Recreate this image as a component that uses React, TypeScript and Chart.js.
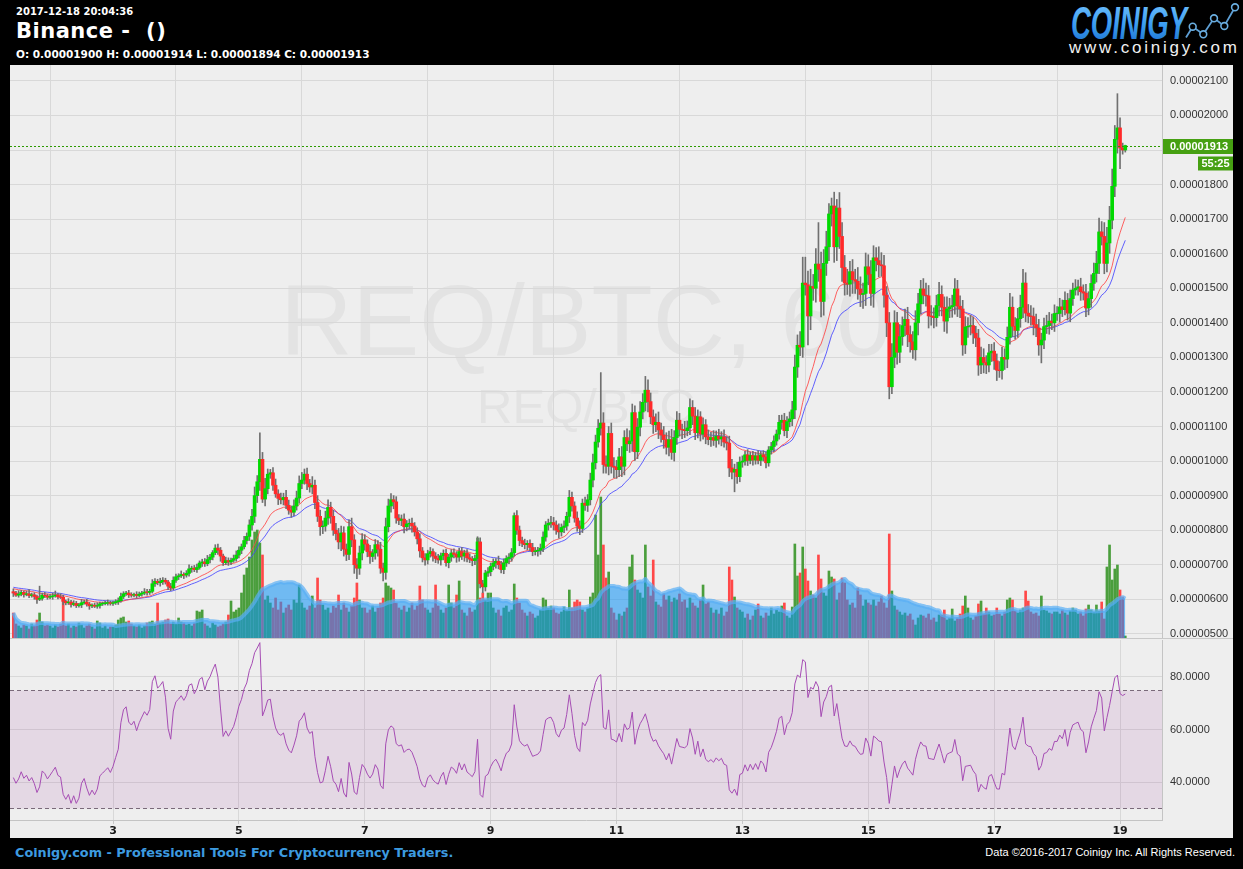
import React, { useEffect, useRef } from 'react';
import { Chart, registerables } from 'chart.js';

Chart.register(...registerables);

// ---------------- data (prices in satoshi = 1e-8 BTC, hourly candles) ----------------
const firstHour = 10; // first candle: day 1, 10:00 (hours counted from day 1 00:00)
const firstOpen = 622;

const closeSat = [
  /* d1 */ 618, 612, 615, 620, 614, 616, 611, 613, 608, 600, 603, 612, 610, 606,
  /* d2 */ 608, 610, 612, 607, 606, 594, 590, 592, 585, 588, 582, 584, 590, 592, 586, 581, 583, 580, 582, 587, 588, 589, 590, 588,
  /* d3 */ 590, 593, 596, 608, 616, 618, 613, 612, 614, 611, 615, 618, 621, 620, 623, 645, 652, 648, 651, 655, 650, 638, 633, 655,
  /* d4 */ 665, 668, 672, 670, 675, 688, 690, 686, 692, 705, 708, 703, 715, 722, 735, 748, 742, 725, 706, 712, 708, 713, 718, 728,
  /* d5 */ 742, 752, 770, 782, 815, 840, 900, 940, 1005, 890, 920, 962, 966, 930, 905, 892, 888, 895, 872, 858, 852, 870, 893, 935,
  /* d6 */ 945, 962, 935, 925, 930, 880, 840, 810, 812, 835, 866, 840, 800, 790, 766, 792, 745, 730, 810, 772, 700, 690, 734, 772,
  /* d7 */ 760, 738, 724, 734, 758, 745, 690, 678, 810, 870, 888, 882, 835, 828, 832, 810, 818, 820, 812, 795, 775, 740, 720, 714,
  /* d8 */ 732, 738, 725, 718, 714, 726, 733, 706, 722, 734, 730, 722, 738, 725, 734, 720, 716, 712, 718, 766, 645, 636, 676, 680,
  /* d9 */ 695, 705, 710, 700, 686, 705, 718, 722, 735, 842, 800, 770, 762, 758, 762, 750, 738, 740, 742, 748, 780, 815, 820, 822,
  /* d10 */ 815, 800, 795, 808, 812, 840, 895, 870, 835, 812, 805, 878, 872, 888, 945, 995, 1055, 1095, 1110, 990, 985, 1080, 985, 982,
  /* d11 */ 975, 1012, 985, 1068, 1050, 1058, 1140, 1027, 1098, 1142, 1170, 1205, 1172, 1128, 1105, 1112, 1090, 1075, 1062, 1040, 1062, 1025, 1068, 1118,
  /* d12 */ 1092, 1090, 1088, 1096, 1155, 1130, 1082, 1128, 1078, 1105, 1070, 1062, 1068, 1060, 1072, 1064, 1070, 1055, 1052, 980, 968, 976, 955, 997,
  /* d13 */ 1000, 1018, 1002, 1016, 1003, 1015, 1002, 1018, 1012, 995, 1032, 1042, 1058, 1078, 1112, 1118, 1088, 1114, 1122, 1148, 1272, 1335, 1330, 1515,
  /* d14 */ 1510, 1420, 1505, 1500, 1570, 1555, 1462, 1572, 1620, 1715, 1738, 1620, 1732, 1650, 1560, 1515, 1512, 1548, 1525, 1520, 1498, 1482, 1485, 1562,
  /* d15 */ 1540, 1485, 1588, 1580, 1568, 1565, 1480, 1400, 1215, 1300, 1400, 1315, 1360, 1392, 1410, 1366, 1345, 1322, 1400, 1455, 1498, 1480, 1478, 1420,
  /* d16 */ 1418, 1415, 1450, 1482, 1445, 1405, 1440, 1446, 1450, 1498, 1448, 1440, 1336, 1388, 1390, 1392, 1370, 1356, 1278, 1300, 1285, 1278, 1313, 1318,
  /* d17 */ 1290, 1263, 1262, 1300, 1295, 1358, 1445, 1390, 1378, 1412, 1445, 1515, 1428, 1420, 1418, 1395, 1385, 1336, 1350, 1389, 1392, 1405, 1400, 1427,
  /* d18 */ 1427, 1446, 1438, 1465, 1428, 1470, 1495, 1500, 1504, 1490, 1486, 1443, 1470, 1514, 1543, 1572, 1663, 1650, 1572, 1631, 1697, 1795, 1931, 1964,
  /* d19 */ 1906, 1900, 1913,
];

const upperWick = [
  /* d1 */ 8, 5, 10, 6, 4, 8, 12, 5, 6, 4, 35, 6, 8, 5,
  /* d2 */ 6, 8, 12, 5, 9, 6, 4, 10, 5, 8, 6, 4, 10, 6, 8, 5, 4, 6, 8, 5, 4, 6, 8, 5,
  /* d3 */ 5, 6, 8, 10, 6, 5, 8, 6, 4, 8, 6, 5, 10, 8, 6, 12, 8, 6, 10, 8, 6, 5, 8, 10,
  /* d4 */ 8, 6, 10, 5, 8, 12, 6, 8, 10, 6, 8, 10, 12, 8, 6, 10, 12, 8, 6, 10, 8, 6, 10, 12,
  /* d5 */ 10, 8, 12, 10, 15, 20, 25, 18, 77, 20, 30, 15, 10, 15, 18, 12, 15, 12, 20, 15, 12, 18, 20, 22,
  /* d6 */ 22, 15, 18, 12, 25, 15, 20, 18, 15, 20, 22, 15, 18, 20, 15, 20, 18, 15, 20, 25, 15, 18, 20, 18,
  /* d7 */ 15, 12, 18, 10, 15, 12, 20, 15, 25, 20, 18, 12, 15, 10, 12, 15, 10, 12, 15, 10, 12, 15, 10, 12,
  /* d8 */ 10, 12, 8, 10, 12, 8, 10, 12, 8, 10, 12, 8, 10, 12, 8, 10, 12, 8, 10, 15, 12, 10, 8, 12,
  /* d9 */ 10, 12, 8, 15, 10, 12, 8, 10, 12, 8, 15, 12, 10, 12, 8, 10, 12, 10, 8, 12, 15, 10, 12, 18,
  /* d10 */ 15, 12, 18, 10, 15, 12, 20, 15, 12, 18, 15, 12, 18, 15, 20, 25, 20, 25, 146, 30, 25, 20, 30, 25,
  /* d11 */ 20, 25, 30, 20, 25, 30, 25, 20, 25, 30, 25, 40, 30, 25, 20, 25, 30, 20, 25, 20, 25, 30, 20, 25,
  /* d12 */ 20, 15, 25, 20, 25, 20, 25, 20, 15, 20, 15, 20, 15, 20, 15, 20, 15, 20, 15, 20, 25, 15, 20, 15,
  /* d13 */ 15, 10, 15, 10, 12, 10, 15, 10, 12, 15, 10, 12, 15, 12, 20, 15, 20, 15, 20, 25, 35, 30, 40, 75,
  /* d14 */ 75, 40, 50, 35, 45, 120, 50, 40, 45, 30, 23, 40, 25, 45, 40, 35, 40, 30, 35, 30, 40, 35, 30, 40,
  /* d15 */ 35, 40, 35, 30, 40, 35, 30, 25, 30, 40, 35, 30, 35, 25, 30, 35, 25, 30, 35, 30, 25, 30, 35, 30,
  /* d16 */ 30, 25, 30, 35, 25, 30, 35, 25, 30, 30, 25, 30, 25, 30, 25, 30, 25, 20, 25, 30, 25, 20, 25, 20,
  /* d17 */ 25, 20, 25, 30, 25, 30, 40, 30, 25, 30, 35, 40, 30, 25, 30, 25, 30, 25, 20, 25, 30, 25, 20, 25,
  /* d18 */ 20, 25, 20, 25, 20, 25, 20, 25, 20, 25, 20, 25, 20, 25, 30, 35, 40, 30, 40, 45, 40, 50, 40, 99,
  /* d19 */ 29, 14, 1,
];

const lowerWick = [
  /* d1 */ 10, 4, 6, 5, 8, 4, 6, 5, 8, 12, 4, 6, 5, 6,
  /* d2 */ 5, 8, 4, 6, 4, 10, 6, 5, 8, 4, 6, 5, 8, 4, 6, 10, 5, 4, 6, 8, 5, 4, 6, 5,
  /* d3 */ 6, 5, 8, 4, 6, 5, 8, 6, 5, 8, 4, 6, 5, 8, 6, 5, 8, 6, 10, 8, 6, 10, 8, 6,
  /* d4 */ 6, 8, 5, 10, 6, 8, 10, 6, 8, 5, 10, 8, 6, 10, 8, 6, 12, 15, 8, 6, 10, 8, 6, 8,
  /* d5 */ 8, 10, 6, 10, 12, 15, 18, 20, 25, 10, 20, 15, 12, 15, 10, 18, 12, 15, 10, 12, 15, 10, 12, 15,
  /* d6 */ 15, 12, 18, 15, 20, 18, 15, 25, 20, 15, 18, 20, 15, 18, 20, 25, 20, 18, 15, 20, 25, 30, 18, 20,
  /* d7 */ 18, 15, 20, 15, 18, 20, 15, 25, 20, 15, 18, 20, 15, 12, 15, 18, 12, 15, 18, 12, 15, 18, 12, 15,
  /* d8 */ 12, 10, 15, 12, 10, 15, 12, 10, 15, 12, 10, 15, 12, 10, 15, 12, 10, 15, 12, 10, 12, 17, 12, 10,
  /* d9 */ 12, 10, 15, 12, 10, 12, 10, 15, 12, 10, 12, 15, 10, 12, 15, 10, 12, 10, 15, 12, 10, 12, 15, 12,
  /* d10 */ 15, 12, 18, 12, 15, 12, 18, 15, 12, 15, 18, 12, 15, 18, 15, 20, 18, 15, 20, 25, 20, 25, 20, 30,
  /* d11 */ 25, 20, 30, 25, 20, 25, 30, 25, 20, 25, 20, 25, 30, 20, 25, 20, 25, 20, 25, 20, 25, 20, 25, 20,
  /* d12 */ 20, 25, 20, 15, 20, 25, 20, 15, 20, 15, 20, 15, 20, 15, 20, 15, 20, 15, 20, 25, 20, 57, 20, 15,
  /* d13 */ 15, 12, 15, 10, 15, 12, 10, 15, 12, 15, 10, 12, 15, 12, 15, 20, 15, 20, 15, 20, 25, 30, 25, 30,
  /* d14 */ 30, 84, 40, 35, 40, 35, 45, 40, 35, 40, 35, 45, 40, 35, 40, 35, 30, 35, 40, 35, 30, 35, 40, 35,
  /* d15 */ 30, 35, 40, 30, 35, 30, 35, 40, 35, 20, 30, 35, 30, 25, 30, 35, 30, 25, 30, 35, 30, 25, 30, 35,
  /* d16 */ 25, 30, 25, 30, 25, 30, 35, 25, 30, 25, 30, 25, 30, 25, 30, 25, 30, 25, 30, 25, 30, 25, 20, 25,
  /* d17 */ 25, 30, 20, 25, 30, 25, 20, 30, 25, 20, 25, 30, 25, 20, 25, 30, 25, 30, 52, 25, 20, 25, 20, 25,
  /* d18 */ 20, 25, 20, 15, 20, 25, 20, 15, 20, 25, 20, 25, 20, 25, 20, 25, 30, 25, 30, 25, 30, 25, 30, 40,
  /* d19 */ 60, 12, 6,
];

const volume = [
  /* d1 */ 25, 14, 12, 10, 13, 12, 9, 14, 12, 18, 25, 16, 12, 13,
  /* d2 */ 12, 10, 13, 11, 14, 38, 12, 14, 10, 12, 11, 15, 13, 10, 12, 14, 11, 9, 17, 15, 10, 12, 9, 11,
  /* d3 */ 11, 13, 18, 20, 21, 16, 17, 14, 12, 11, 13, 10, 12, 15, 16, 17, 14, 35, 15, 16, 18, 19, 14, 16,
  /* d4 */ 14, 20, 16, 15, 13, 14, 12, 15, 27, 26, 28, 14, 12, 10, 15, 13, 11, 12, 14, 16, 23, 37, 26, 28,
  /* d5 */ 30, 45, 63, 70, 81, 98, 106, 108, 95, 83, 38, 42, 35, 30, 40, 28, 36, 25, 30, 33, 28, 38, 35, 53,
  /* d6 */ 35, 30, 28, 32, 42, 30, 60, 38, 33, 28, 30, 25, 32, 30, 43, 28, 35, 30, 26, 32, 40, 55, 38, 30,
  /* d7 */ 30, 25, 28, 32, 26, 30, 35, 40, 55, 52, 50, 48, 35, 30, 28, 32, 26, 30, 35, 28, 32, 52, 38, 30,
  /* d8 */ 28, 25, 30, 53, 32, 28, 25, 30, 53, 35, 30, 43, 57, 28, 25, 22, 30, 26, 28, 100, 40, 45, 38, 45,
  /* d9 */ 45, 30, 25, 28, 22, 30, 32, 26, 28, 54, 40, 35, 28, 25, 22, 26, 24, 20, 22, 28, 40, 38, 30, 32,
  /* d10 */ 30, 25, 24, 26, 31, 28, 48, 30, 36, 38, 36, 28, 26, 30, 41, 45, 123, 83, 141, 93, 60, 66, 30, 25,
  /* d11 */ 18, 24, 22, 26, 30, 71, 83, 58, 48, 45, 40, 93, 51, 42, 78, 36, 33, 31, 44, 38, 42, 36, 40, 38,
  /* d12 */ 44, 36, 38, 30, 40, 35, 32, 30, 38, 53, 34, 36, 30, 25, 28, 24, 30, 22, 26, 71, 58, 41, 30, 28,
  /* d13 */ 26, 20, 24, 18, 22, 28, 34, 22, 20, 25, 22, 30, 24, 28, 26, 32, 35, 22, 20, 31, 94, 62, 65, 91,
  /* d14 */ 69, 57, 47, 43, 40, 83, 59, 45, 42, 67, 61, 59, 38, 45, 60, 55, 38, 33, 35, 30, 50, 43, 32, 38,
  /* d15 */ 35, 33, 38, 32, 36, 42, 35, 30, 104, 47, 32, 28, 26, 23, 25, 22, 24, 18, 13, 20, 23, 22, 20, 24,
  /* d16 */ 18, 20, 16, 23, 23, 28, 18, 20, 29, 17, 20, 24, 32, 42, 30, 20, 18, 22, 34, 37, 24, 30, 26, 22,
  /* d17 */ 23, 30, 24, 22, 26, 38, 40, 38, 27, 25, 28, 30, 47, 37, 26, 24, 25, 22, 42, 28, 27, 25, 24, 26,
  /* d18 */ 26, 24, 28, 25, 23, 27, 30, 28, 24, 26, 22, 29, 33, 28, 26, 33, 27, 36, 19, 71, 93, 58, 69, 73,
  /* d19 */ 48, 41, 2,
];

const maSeed = [632, 636]; // fast / slow MA levels just before the first candle
const maPeriods = [20, 30];
const volMaPeriod = 20;
const rsiPeriod = 14;
const rsiSeed = [3.8, 5.0]; // average gain / loss (sat) carried in from before the first candle

const lastBar = { o: 1900, h: 1914, l: 1894, c: 1913 };
const countdown = '55:25';
const stamp = '2017-12-18 20:04:36';
const title = 'Binance -  ()';
const pair = 'REQ/BTC';
const intervalLabel = '60';

const dayTickHours = [48, 96, 144, 192, 240, 288, 336, 384, 432];
const dayTickLabels = ['3', '5', '7', '9', '11', '13', '15', '17', '19'];
const priceTicks = [500, 600, 700, 800, 900, 1000, 1100, 1200, 1300, 1400, 1500, 1600, 1700, 1800, 1900, 2000, 2100];
const rsiTicks = [40, 60, 80];
const rsiBand = [30, 75];
const xRange = [8.72, 448];
const priceRange = [488, 2146];
const rsiRange = [25.6, 94];

// ---------------- derived series ----------------
const n = Math.min(closeSat.length, upperWick.length, lowerWick.length, volume.length);
const hours = Array.from({ length: n }, (_, i) => firstHour + i);
const opens = hours.map((_, i) => (i === 0 ? firstOpen : closeSat[i - 1]));
const highs = hours.map((_, i) => Math.max(opens[i], closeSat[i]) + upperWick[i]);
const lows = hours.map((_, i) => Math.min(opens[i], closeSat[i]) - lowerWick[i]);
const isUp = hours.map((_, i) => closeSat[i] >= opens[i]);

function ema(vals: number[], p: number, seed: number) {
  const a = 2 / (p + 1);
  let e = seed;
  return vals.map((v) => (e = e + a * (v - e)));
}
function sma(vals: number[], p: number) {
  return vals.map((_, i) => {
    const s = vals.slice(Math.max(0, i - p + 1), i + 1);
    return s.reduce((a, b) => a + b, 0) / s.length;
  });
}
function rsi(vals: number[], p: number, first: number, seed: number[]) {
  let ag = seed[0];
  let al = seed[1];
  return vals.map((v, i) => {
    const prev = i === 0 ? first : vals[i - 1];
    const d = v - prev;
    ag = (ag * (p - 1) + Math.max(d, 0)) / p;
    al = (al * (p - 1) + Math.max(-d, 0)) / p;
    return al === 0 ? 100 : 100 - 100 / (1 + ag / al);
  });
}

const closes = closeSat.slice(0, n);
const maFast = ema(closes, maPeriods[0], maSeed[0]);
const maSlow = ema(closes, maPeriods[1], maSeed[1]);
const volMa = sma(volume.slice(0, n), volMaPeriod);
const rsiVals = rsi(closes, rsiPeriod, firstOpen, rsiSeed);

const fmt8 = (v: number) => (v / 1e8).toFixed(8);

const PRICE_W = 1223;
const PRICE_H = 573;
const RSI_H = 200;
const AXIS_W = 71;

function zeroPad(s: any) {
  s.paddingTop = 0;
  s.paddingBottom = 0;
  s.paddingLeft = 0;
  s.paddingRight = 0;
}

const pricePanelPlugin = {
  id: 'pricePanel',
  beforeDraw(chart: any) {
    const { ctx, width, height, chartArea } = chart;
    ctx.save();
    ctx.fillStyle = '#eeeeee';
    ctx.fillRect(0, 0, width, height);
    const cx = (chartArea.left + chartArea.right) / 2;
    ctx.fillStyle = '#e3e3e3';
    ctx.textAlign = 'center';
    ctx.textBaseline = 'alphabetic';
    ctx.font = '100px "Liberation Sans", Arial, sans-serif';
    ctx.fillText(pair + ', ' + intervalLabel, cx, 290);
    ctx.font = '49px "Liberation Sans", Arial, sans-serif';
    ctx.fillText(pair, cx, 358);
    ctx.restore();
  },
  afterDraw(chart: any) {
    const { ctx, chartArea, width } = chart;
    const y = Math.round(chart.scales.y.getPixelForValue(lastBar.c)) + 0.5;
    ctx.save();
    ctx.strokeStyle = '#2c9a00';
    ctx.lineWidth = 1;
    ctx.setLineDash([2, 2]);
    ctx.beginPath();
    ctx.moveTo(chartArea.left, y);
    ctx.lineTo(chartArea.right, y);
    ctx.stroke();
    ctx.setLineDash([]);
    ctx.fillStyle = '#46a012';
    ctx.fillRect(chartArea.right + 1, y - 7.5, width - chartArea.right - 1, 15);
    ctx.fillRect(width - 35, y + 10, 35, 14);
    ctx.fillStyle = '#ffffff';
    ctx.font = 'bold 11px "Liberation Sans", Arial, sans-serif';
    ctx.textBaseline = 'middle';
    ctx.textAlign = 'left';
    ctx.fillText(fmt8(lastBar.c), chartArea.right + 8, y + 0.5);
    ctx.textAlign = 'center';
    ctx.fillText(countdown, width - 17.5, y + 17.5);
    ctx.restore();
  },
};

const rsiPanelPlugin = {
  id: 'rsiPanel',
  beforeDraw(chart: any) {
    const { ctx, width, height } = chart;
    ctx.save();
    ctx.fillStyle = '#eeeeee';
    ctx.fillRect(0, 0, width, height);
    ctx.strokeStyle = '#c8c8c8';
    ctx.lineWidth = 1;
    ctx.beginPath();
    ctx.moveTo(0, 0.5);
    ctx.lineTo(width, 0.5);
    ctx.stroke();
    ctx.restore();
  },
  beforeDatasetsDraw(chart: any) {
    const { ctx, chartArea } = chart;
    const ys = chart.scales.y;
    const yTop = Math.round(ys.getPixelForValue(rsiBand[1])) + 0.5;
    const yBot = Math.round(ys.getPixelForValue(rsiBand[0])) + 0.5;
    ctx.save();
    ctx.fillStyle = 'rgba(128,0,128,0.09)';
    ctx.fillRect(chartArea.left, yTop, chartArea.right - chartArea.left, yBot - yTop);
    ctx.strokeStyle = '#7a6a7a';
    ctx.lineWidth = 1;
    ctx.setLineDash([4, 3]);
    ctx.beginPath();
    ctx.moveTo(chartArea.left, yTop);
    ctx.lineTo(chartArea.right, yTop);
    ctx.moveTo(chartArea.left, yBot);
    ctx.lineTo(chartArea.right, yBot);
    ctx.stroke();
    ctx.restore();
  },
};

const axisFont = { family: '"Liberation Sans", Arial, sans-serif', size: 11 };
const gridColor = '#d8d8d8';

export default function App() {
  const priceRef = useRef<HTMLCanvasElement>(null);
  const rsiRef = useRef<HTMLCanvasElement>(null);

  useEffect(() => {
    document.body.style.margin = '0';
    document.body.style.background = '#000';

    const xScaleBase = {
      type: 'linear',
      min: xRange[0],
      max: xRange[1],
      offset: false,
      afterBuildTicks: (s: any) => {
        s.ticks = dayTickHours.map((v) => ({ value: v }));
      },
    };

    const priceChart = new Chart(priceRef.current as HTMLCanvasElement, {
      type: 'bar',
      data: {
        datasets: [
          {
            type: 'bar',
            label: 'body',
            data: hours.map((x, i) => {
              const o = opens[i];
              const c = closeSat[i];
              const y = Math.abs(c - o) < 2 ? [(o + c) / 2 - 1, (o + c) / 2 + 1] : [o, c];
              return { x, y };
            }),
            backgroundColor: isUp.map((u) => (u ? '#00d900' : '#ff2a2a')),
            borderWidth: 0,
            barThickness: 3,
            grouped: false,
            order: 0,
            yAxisID: 'y',
          },
          {
            type: 'bar',
            label: 'wick',
            data: hours.map((x, i) => ({ x, y: [lows[i], highs[i]] })),
            backgroundColor: '#707070',
            borderWidth: 0,
            barThickness: 1,
            grouped: false,
            order: 1,
            yAxisID: 'y',
          },
          {
            type: 'line',
            label: 'MA fast',
            data: hours.map((x, i) => ({ x, y: maFast[i] })),
            borderColor: 'rgba(255,70,70,0.85)',
            borderWidth: 1,
            pointRadius: 0,
            tension: 0,
            order: 2,
            yAxisID: 'y',
          },
          {
            type: 'line',
            label: 'MA slow',
            data: hours.map((x, i) => ({ x, y: maSlow[i] })),
            borderColor: 'rgba(70,70,255,0.85)',
            borderWidth: 1,
            pointRadius: 0,
            tension: 0,
            order: 3,
            yAxisID: 'y',
          },
          {
            type: 'line',
            label: 'Volume MA',
            data: hours.map((x, i) => ({ x, y: volMa[i] })),
            borderColor: 'rgba(90,175,245,0.7)',
            backgroundColor: 'rgba(20,148,245,0.58)',
            fill: 'origin',
            borderWidth: 4,
            pointRadius: 0,
            tension: 0.3,
            order: 4,
            yAxisID: 'yv',
          },
          {
            type: 'bar',
            label: 'Volume',
            data: hours.map((x, i) => ({ x, y: volume[i] })),
            backgroundColor: isUp.map((u) => (u ? '#4a9e3c' : '#ff4848')),
            borderWidth: 0,
            barThickness: 2,
            grouped: false,
            order: 5,
            yAxisID: 'yv',
          },
        ],
      } as any,
      options: {
        animation: false,
        responsive: false,
        maintainAspectRatio: false,
        events: [],
        layout: { padding: 0 },
        plugins: { legend: { display: false }, tooltip: { enabled: false } },
        scales: {
          x: {
            ...xScaleBase,
            ticks: { display: false },
            grid: { color: gridColor, drawTicks: false },
            border: { display: false },
            afterFit: (s: any) => {
              s.height = 0;
              zeroPad(s);
            },
          },
          y: {
            type: 'linear',
            position: 'right',
            min: priceRange[0],
            max: priceRange[1],
            afterBuildTicks: (s: any) => {
              s.ticks = priceTicks.map((v) => ({ value: v }));
            },
            ticks: {
              callback: (v: any) => fmt8(Number(v)),
              color: '#333333',
              font: axisFont,
              padding: 8,
              autoSkip: false,
            },
            grid: { color: gridColor, drawTicks: false },
            border: { color: '#c4c4c4' },
            afterFit: (s: any) => {
              s.width = AXIS_W;
              zeroPad(s);
            },
          },
          yv: { type: 'linear', display: false, min: 0, max: PRICE_H },
        },
      } as any,
      plugins: [pricePanelPlugin],
    });

    const rsiChart = new Chart(rsiRef.current as HTMLCanvasElement, {
      type: 'line',
      data: {
        datasets: [
          {
            label: 'RSI',
            data: hours.map((x, i) => ({ x, y: rsiVals[i] })),
            borderColor: '#a64db4',
            borderWidth: 1,
            pointRadius: 0,
            tension: 0,
          },
        ],
      } as any,
      options: {
        animation: false,
        responsive: false,
        maintainAspectRatio: false,
        events: [],
        layout: { padding: { top: 2, left: 0, right: 0, bottom: 0 } },
        plugins: { legend: { display: false }, tooltip: { enabled: false } },
        scales: {
          x: {
            ...xScaleBase,
            ticks: {
              callback: (v: any) => {
                const k = dayTickHours.indexOf(Number(v));
                return k >= 0 ? dayTickLabels[k] : '';
              },
              color: '#1a1a1a',
              font: { family: '"DejaVu Sans", Verdana, sans-serif', size: 11, weight: 'bold' },
              padding: 1,
              maxRotation: 0,
              autoSkip: false,
            },
            grid: { color: gridColor, tickLength: 4, tickColor: '#c8c8c8' },
            border: { color: '#c4c4c4' },
            afterFit: (s: any) => {
              s.height = 18;
              zeroPad(s);
            },
          },
          y: {
            type: 'linear',
            position: 'right',
            min: rsiRange[0],
            max: rsiRange[1],
            afterBuildTicks: (s: any) => {
              s.ticks = rsiTicks.map((v) => ({ value: v }));
            },
            ticks: {
              callback: (v: any) => Number(v).toFixed(4),
              color: '#333333',
              font: axisFont,
              padding: 8,
              autoSkip: false,
            },
            grid: { color: gridColor, drawTicks: false },
            border: { color: '#c4c4c4' },
            afterFit: (s: any) => {
              s.width = AXIS_W;
              zeroPad(s);
            },
          },
        },
      } as any,
      plugins: [rsiPanelPlugin],
    });

    return () => {
      priceChart.destroy();
      rsiChart.destroy();
    };
  }, []);

  const headFont = '"DejaVu Sans", Verdana, sans-serif';
  const ohlc = `O: ${fmt8(lastBar.o)} H: ${fmt8(lastBar.h)} L: ${fmt8(lastBar.l)} C: ${fmt8(lastBar.c)}`;
  const dots: [number, number][] = [
    [1192.7, 26.7],
    [1203.3, 34.3],
    [1214, 18.3],
    [1224.3, 26],
    [1235, 7.3],
  ];

  return (
    <div
      style={{
        position: 'fixed',
        left: 0,
        top: 0,
        width: 1243,
        height: 869,
        background: '#000',
        overflow: 'hidden',
      }}
    >
      <div
        style={{
          position: 'absolute',
          left: 16,
          top: 6.5,
          color: '#fff',
          font: `bold 10px ${headFont}`,
          lineHeight: 1,
          whiteSpace: 'pre',
        }}
      >
        {stamp}
      </div>
      <div
        style={{
          position: 'absolute',
          left: 16,
          top: 20.5,
          color: '#fff',
          font: `bold 21px ${headFont}`,
          letterSpacing: '0.5px',
          lineHeight: 1,
          whiteSpace: 'pre',
        }}
      >
        {title}
      </div>
      <div
        style={{
          position: 'absolute',
          left: 16,
          top: 48.8,
          color: '#fff',
          font: `bold 10.5px ${headFont}`,
          lineHeight: 1,
          whiteSpace: 'pre',
        }}
      >
        {ohlc}
      </div>

      <svg width={1243} height={62} style={{ position: 'absolute', left: 0, top: 0 }}>
        <defs>
          <linearGradient id="coinigyGrad" x1="0" y1="0" x2="0" y2="1">
            <stop offset="0" stopColor="#7cc8ff" />
            <stop offset="0.55" stopColor="#3a9cf0" />
            <stop offset="1" stopColor="#1668c8" />
          </linearGradient>
        </defs>
        <text
          x={1071}
          y={39}
          fontFamily="'Liberation Sans Narrow', 'Liberation Sans', Arial, sans-serif"
          fontWeight="bold"
          fontStyle="italic"
          fontSize={47}
          fill="url(#coinigyGrad)"
          textLength={116}
          lengthAdjust="spacingAndGlyphs"
        >
          COINIGY
        </text>
        <polyline
          points={['1186,37.5', ...dots.map((d) => d.join(','))].join(' ')}
          fill="none"
          stroke="#5e9fd4"
          strokeWidth={1.8}
        />
        {dots.map((d, i) => (
          <circle key={i} cx={d[0]} cy={d[1]} r={3.4} fill="#000" stroke="#6aaee0" strokeWidth={1.6} />
        ))}
        <text
          x={1069}
          y={53}
          fontFamily="'Liberation Sans', Arial, sans-serif"
          fontSize={17}
          fill="#f0f0f0"
          textLength={168}
          lengthAdjust="spacing"
        >
          www.coinigy.com
        </text>
      </svg>

      <canvas
        ref={priceRef}
        width={PRICE_W}
        height={PRICE_H}
        style={{ position: 'absolute', left: 10, top: 65, width: PRICE_W, height: PRICE_H }}
      />
      <canvas
        ref={rsiRef}
        width={PRICE_W}
        height={RSI_H}
        style={{ position: 'absolute', left: 10, top: 638, width: PRICE_W, height: RSI_H }}
      />

      <div
        style={{
          position: 'absolute',
          left: 15,
          top: 846.5,
          color: '#3d9be0',
          font: 'bold 12.8px "DejaVu Sans", Verdana, sans-serif',
          lineHeight: 1,
          whiteSpace: 'pre',
        }}
      >
        Coinigy.com - Professional Tools For Cryptocurrency Traders.
      </div>
      <div
        style={{
          position: 'absolute',
          right: 8,
          top: 847,
          color: '#fff',
          font: '11px "Liberation Sans", Arial, sans-serif',
          lineHeight: 1,
          whiteSpace: 'pre',
        }}
      >
        Data ©2016-2017 Coinigy Inc. All Rights Reserved.
      </div>
    </div>
  );
}
